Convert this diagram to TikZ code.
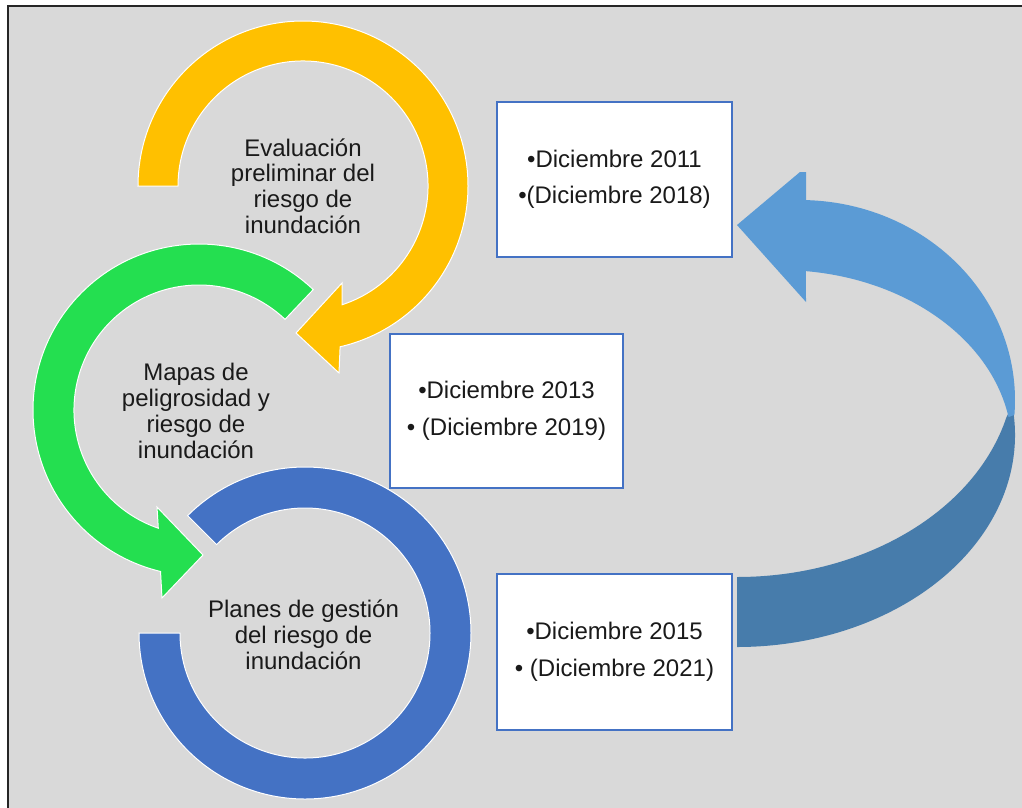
\documentclass[tikz,border=0pt]{standalone}
\usepackage{fontspec}
\setmainfont{Liberation Sans}
\usetikzlibrary{calc}
\definecolor{bggray}{HTML}{D9D9D9}
\definecolor{ringyellow}{HTML}{FFC000}
\definecolor{ringgreen}{HTML}{24DF50}
\definecolor{ringblue}{HTML}{4472C4}
\definecolor{boxedge}{HTML}{4472C4}
\definecolor{arrowlight}{HTML}{5B9BD5}
\definecolor{arrowdark}{HTML}{477CAB}
\definecolor{txt}{HTML}{1A1A1A}
\begin{document}
\begin{tikzpicture}[x=1pt,y=-1pt,
  ring/.style={draw=white, line width=1pt, line join=miter},
  ringtext/.style={font=\fontsize{24}{25.8}\selectfont, align=center, text=txt, inner sep=0pt},
  datebox/.style={draw=boxedge, line width=2pt, fill=white, align=center,
    font=\fontsize{24}{36.5}\selectfont, text=txt, inner sep=0pt},
  frameline/.style={draw=black!85, line width=2pt}]
\useasboundingbox (0,0) rectangle (1022,807);
\clip (0,0) rectangle (1022,807);
\fill[white] (0,0) rectangle (1022,807);
\fill[bggray] (7.5,6) rectangle (1030,815);
\draw[frameline] (7.5,815) -- (7.5,6) -- (1030,6);

% ring centres
\coordinate (cy) at (303,186);
\coordinate (cg) at (199,410);
\coordinate (cb) at (305,633);

% yellow circular arrow
\filldraw[ring, fill=ringyellow] ($(cy)+(-180:165)$) arc[start angle=-180, end angle=77, radius=165]
  -- (339,373) -- (296,333) -- (342,283)
  -- ($(cy)+(71.8:125)$) arc[start angle=71.8, end angle=-180, radius=125] -- cycle;

% green circular arrow
\filldraw[ring, fill=ringgreen] ($(cg)+(-46.5:166)$) arc[start angle=-46.5, end angle=-256.6, radius=166]
  -- (162,598) -- (203,555) -- (157,507)
  -- ($(cg)+(-251:125)$) arc[start angle=-251, end angle=-46.5, radius=125] -- cycle;

% blue ring
\filldraw[ring, fill=ringblue] ($(cb)+(-135:166)$) arc[start angle=-135, end angle=180, radius=166]
  -- ($(cb)+(180:125)$) arc[start angle=180, end angle=-135, radius=125] -- cycle;

% ring texts
\node[ringtext] (t1) at (303,186) {Evaluación\\preliminar del\\riesgo de\\inundación};
\node[ringtext] (t2) at (196,411) {Mapas de\\peligrosidad y\\riesgo de\\inundación};
\node[ringtext] (t3) at (303.5,635) {Planes de gestión\\del riesgo de\\inundación};

% date boxes
\node[datebox, minimum width=235pt, minimum height=155pt] (b1) at (614.5,179.5) {•Diciembre 2011\\•(Diciembre 2018)};
\node[datebox, minimum width=233pt, minimum height=154pt] (b2) at (506.5,411) {•Diciembre 2013\\• (Diciembre 2019)};
\node[datebox, minimum width=235pt, minimum height=156pt] (b3) at (614.5,652) {•Diciembre 2015\\• (Diciembre 2021)};

% big curved return arrow: dark underside
\fill[arrowdark] (1012.3,405.5) arc[start angle=-8, end angle=90, x radius=278, y radius=212]
  -- (737,577) arc[start angle=90, end angle=14.2, x radius=278, y radius=212] -- cycle;
% light upper side with head
\fill[arrowlight] (737,225) -- (800,172) -- (806,172) -- (806,200.1)
  arc[start angle=-88.4, end angle=4.3, x radius=215, y radius=200]
  -- (1008.5,417) arc[start angle=-10.03, end angle=-83.6, x radius=232, y radius=178]
  -- (806,302) -- cycle;
\end{tikzpicture}
\end{document}
